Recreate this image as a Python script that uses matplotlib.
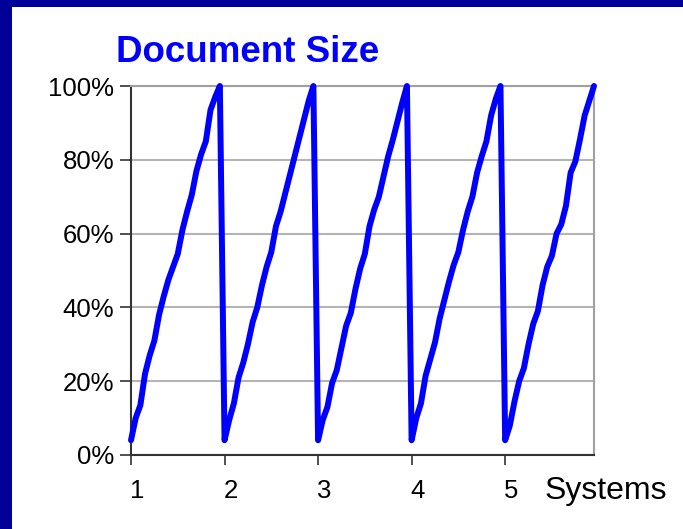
import matplotlib
matplotlib.use("Agg")
import matplotlib.pyplot as plt
import matplotlib.transforms as mtransforms
from matplotlib.patches import Rectangle
from matplotlib.ticker import FuncFormatter

plt.rcParams['font.family'] = ['Liberation Sans', 'DejaVu Sans']

# ---- data ----
title = "Document Size"
x_label = "Systems"
systems = [1, 2, 3, 4, 5]
offsets = [0.00, 0.05, 0.10, 0.15, 0.20, 0.25, 0.30, 0.35, 0.40, 0.45,
           0.50, 0.55, 0.60, 0.65, 0.70, 0.75, 0.80, 0.85, 0.90, 0.95]
size_s1 = [4, 10, 13.5, 22, 27, 31, 38, 43, 47.5, 51, 54.5, 61, 66, 70.5, 77, 81.5, 85, 93.5, 97, 100]
size_s2 = [4, 9.5, 14, 21, 25, 30, 36, 40, 46, 51, 55, 62, 66, 71, 76, 81, 86, 91, 96, 100]
size_s3 = [4, 9.5, 13, 19.5, 23, 29, 35, 38.5, 45, 50.5, 54.5, 62, 66.5, 70, 75.5, 81, 85.5, 90.5, 95.5, 100]
size_s4 = [4, 10, 14, 21.5, 26, 30.5, 37, 42, 47, 51.5, 55, 61, 66, 70, 76.5, 81, 85, 92, 96.5, 100]
size_s5 = [4, 8, 14.5, 20, 23.5, 30, 35.5, 39, 46, 51, 54, 60, 62.5, 67.5, 76.5, 79.5, 85.5, 92, 96, 100]
y_ticks = [0, 20, 40, 60, 80, 100]

series = [size_s1, size_s2, size_s3, size_s4, size_s5]
xs, ys = [], []
for s, vals in zip(systems, series):
    for o, v in zip(offsets, vals):
        xs.append(s + o)
        ys.append(v)

W, H = 683, 529
fig = plt.figure(figsize=(W / 100, H / 100), dpi=100)
fig.patch.set_facecolor('white')

navy = '#000099'
fig.patches.append(Rectangle((0, 0), 12 / W, 1, transform=fig.transFigure,
                             facecolor=navy, edgecolor='none', zorder=0))
fig.patches.append(Rectangle((0, 1 - 7 / H), 1, 7 / H, transform=fig.transFigure,
                             facecolor=navy, edgecolor='none', zorder=0))

ax = fig.add_axes([131 / W, (H - 455) / H, (594 - 131) / W, (455 - 86) / H])
ax.plot(xs, ys, color='#0000ff', lw=4.3, solid_joinstyle='round',
        solid_capstyle='round', clip_on=False, zorder=5)

ax.set_xlim(1, 5.95)
ax.set_ylim(0, 100)
ax.set_yticks(y_ticks)
ax.yaxis.set_major_formatter(FuncFormatter(lambda v, p: f"{int(round(v))}%"))
ax.set_xticks(systems)
ax.set_xticklabels([str(s) for s in systems])

grid_c = '#b4b4b4'
ax.grid(axis='y', color=grid_c, lw=1.5, zorder=1)
ax.set_axisbelow(True)
for side in ['top', 'right']:
    ax.spines[side].set_color('#a0a0a0')
    ax.spines[side].set_linewidth(1.5)
for side in ['left', 'bottom']:
    ax.spines[side].set_color('#333333')
    ax.spines[side].set_linewidth(1.5)

ax.tick_params(axis='y', direction='out', length=8, width=1.2, color='#333333',
               labelsize=18.5, pad=4, labelcolor='black')
ax.tick_params(axis='x', direction='out', length=7, width=1.2, color='#333333',
               labelsize=18.5, pad=10, labelcolor='black')
offset = mtransforms.ScaledTranslation(6 / 100, 0, fig.dpi_scale_trans)
for lbl in ax.get_xticklabels():
    lbl.set_transform(lbl.get_transform() + offset)

fig.text(248 / W, 1 - 62 / H, title, ha='center', va='baseline',
         fontsize=26.5, fontweight='bold', color='#0000ff')
fig.text(545 / W, 1 - 499 / H, x_label, ha='left', va='baseline',
         fontsize=23, color='black')

fig.savefig('out.png', dpi=100, facecolor=fig.get_facecolor())
